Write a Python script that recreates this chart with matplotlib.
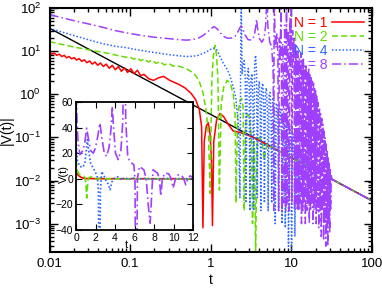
import matplotlib
matplotlib.use("Agg")
import matplotlib.pyplot as plt
import numpy as np
from matplotlib.ticker import LogLocator, NullFormatter, MultipleLocator

plt.rcParams['font.family'] = ['Liberation Sans', 'DejaVu Sans']

# ---------------- data: main panel |V(t)| ----------------
t_n1 = [0.0100, 0.0107, 0.0115, 0.0123, 0.0132, 0.0142, 0.0152, 0.0163, 0.0175, 0.0188,
        0.0202, 0.0217, 0.0233, 0.0251, 0.0270, 0.0291, 0.0314, 0.0339, 0.0366, 0.0396,
        0.0429, 0.0465, 0.0505, 0.0550, 0.0600, 0.0655, 0.0715, 0.0780, 0.0850, 0.0930,
        0.1020, 0.1120, 0.1230, 0.1350, 0.1480, 0.1700, 0.1950, 0.2250, 0.2600, 0.3100,
        0.4000, 0.4800, 0.5700, 0.6500, 0.7200, 0.7700, 0.8000, 0.8300, 0.8800, 0.9300,
        0.9800, 1.0200, 1.0500, 1.0900, 1.1800, 1.3000, 1.4500, 1.6500, 1.9000, 2.3000,
        3.0000, 4.0000, 5.3000, 8.0000, 12.000, 20.000, 40.000, 100.00]
v_n1 = [9.3, 8.5, 9.0, 8.0, 8.5, 7.5, 8.0, 7.0, 7.5, 6.6,
        7.1, 6.2, 6.7, 5.8, 6.3, 5.4, 5.9, 5.0, 5.6, 4.7,
        5.3, 4.4, 5.0, 4.0, 4.7, 3.7, 4.4, 3.4, 4.1, 3.2,
        3.9, 3.0, 3.6, 2.7, 2.9, 2.3, 2.1, 2.4, 2.6, 2.1,
        1.7, 1.4, 1.05, 0.75, 0.45, 0.18, 0.0008, 0.08, 0.18, 0.22,
        0.12, 0.03, 0.0009, 0.08, 0.25, 0.36, 0.3, 0.2, 0.14, 0.13,
        0.11, 0.085, 0.064, 0.042, 0.028, 0.017, 0.0085, 0.0034]

t_n2 = [0.010, 0.015, 0.020, 0.030, 0.040, 0.055, 0.070, 0.090, 0.100, 0.110,
        0.122, 0.135, 0.150, 0.168, 0.188, 0.210, 0.235, 0.265, 0.300, 0.340,
        0.380, 0.430, 0.500, 0.580, 0.640, 0.720, 0.800, 0.880, 0.940, 0.985,
        1.030, 1.080, 1.130, 1.180, 1.230, 1.280, 1.350, 1.450, 1.600, 1.750,
        1.900, 2.000, 2.060, 2.150, 2.300, 2.420, 2.520, 2.600, 2.700, 2.850,
        3.000, 3.200, 3.300, 3.400, 3.500, 3.600, 3.750, 4.000, 4.300, 4.600,
        5.000, 5.500, 8.000, 12.00, 20.00, 40.00, 100.0]
v_n2 = [16.5, 14.0, 12.5, 10.8, 9.8, 8.8, 7.9, 7.2, 7.3, 6.5,
        7.0, 6.0, 6.6, 5.6, 6.2, 5.2, 5.7, 4.8, 5.2, 4.5,
        4.6, 4.3, 3.9, 3.3, 2.8, 2.0, 1.1, 0.4, 0.1, 0.005,
        2.0, 8.0, 13.5, 8.0, 2.0, 0.006, 0.6, 1.5, 2.1, 1.8,
        1.0, 0.4, 0.003, 0.3, 0.7, 0.8, 0.5, 0.002, 0.2, 0.35,
        0.3, 0.1, 0.001, 0.08, 0.05, 0.0002, 0.07, 0.1, 0.085, 0.03,
        0.07, 0.062, 0.042, 0.028, 0.017, 0.0085, 0.0034]

t_n4 = [0.010, 0.015, 0.020, 0.030, 0.045, 0.065, 0.090, 0.130, 0.200, 0.300,
        0.400, 0.500, 0.600, 0.700, 0.800, 0.900, 1.000, 1.100, 1.200, 1.300,
        1.450, 1.600, 1.750, 1.900, 2.050, 2.200, 2.300, 2.360, 2.390, 2.420,
        2.45, 2.52, 2.60, 2.68, 2.74, 2.82, 2.92, 3.00, 3.06, 3.15,
        3.25, 3.33, 3.40, 3.50, 3.60, 3.70, 3.78, 3.88, 4.00, 4.10,
        4.18, 4.30, 4.42, 4.55, 4.63, 4.77, 4.90, 5.05, 5.15, 5.30,
        5.45, 5.60, 5.70, 5.88, 6.05, 6.20, 6.30, 6.50, 6.70, 6.85,
        6.95, 7.15, 7.35, 7.55, 7.65, 7.90, 8.10, 8.30, 8.40, 8.65,
        8.90, 9.10, 9.20, 9.50, 9.75, 9.95, 10.05, 10.40, 10.70, 10.95,
        11.05, 11.40, 11.80, 12.10, 12.25, 12.70, 13.20, 13.60, 13.80, 14.40,
        15.00, 20.00, 40.00, 100.0]
v_n4 = [34.0, 27.0, 23.0, 18.5, 15.0, 13.0, 12.0, 10.5, 9.3, 8.3,
        7.8, 7.5, 7.6, 8.0, 8.8, 9.8, 11.0, 11.8, 10.5, 7.5,
        5.0, 3.8, 2.5, 1.5, 0.8, 0.2, 0.004, 20.0, 150.0, 20.0,
        3.0, 5.0, 6.0, 2.5, 0.003, 2.0, 4.0, 1.5, 0.002, 2.2,
        3.0, 0.8, 0.002, 5.0, 8.0, 3.0, 0.004, 1.2, 2.0, 0.6,
        0.002, 1.5, 1.8, 0.5, 0.003, 1.2, 1.4, 0.4, 0.002, 1.0,
        1.1, 0.3, 0.003, 0.8, 0.8, 0.2, 0.001, 0.6, 0.6, 0.15,
        0.002, 0.45, 0.45, 0.1, 0.001, 0.35, 0.33, 0.08, 0.0008, 0.25,
        0.22, 0.05, 0.0003, 0.18, 0.15, 0.03, 0.00025, 0.12, 0.1, 0.02,
        0.0005, 0.07, 0.06, 0.015, 0.002, 0.045, 0.035, 0.01, 0.004, 0.026,
        0.022, 0.017, 0.0085, 0.0034]

t_n8 = [0.010, 0.015, 0.020, 0.030, 0.045, 0.065, 0.090, 0.130, 0.200, 0.300,
        0.400, 0.500, 0.600, 0.700, 0.800, 0.900, 1.000, 1.100, 1.200, 1.300,
        1.450, 1.600, 1.800, 2.000, 2.150, 2.300, 2.400, 2.500, 2.650, 2.900,
        3.200, 3.450, 3.600, 3.700, 3.800, 4.000, 4.300, 4.600, 4.800, 4.950,
        5.100, 5.400, 5.700,
        5.95, 6.05, 6.10, 6.15, 6.25, 6.40, 6.60, 6.80, 6.95, 7.10,
        7.25, 7.45, 7.65, 7.80, 7.95, 8.10, 8.25, 8.40, 8.55, 8.70,
        8.85, 9.00, 9.20, 9.40, 9.60, 9.78, 9.96, 10.15, 10.35, 10.55,
        10.75, 10.95, 11.10, 11.25, 11.45, 11.65, 11.85,
        12.10, 12.35, 12.60, 12.85, 13.10, 13.35, 13.60, 13.85, 14.10, 14.35,
        14.60, 14.90, 15.20, 15.50, 15.80, 16.10, 16.40, 16.70, 17.00, 17.30,
        17.60, 17.90, 18.20, 18.50, 18.80, 19.10, 19.40, 19.70, 20.00, 20.30,
        20.70, 21.10, 21.50, 21.90, 22.30, 22.70, 23.10, 23.50, 23.90, 24.30,
        24.70, 25.10, 25.50, 25.90, 26.30, 26.70, 27.10, 27.50, 27.90, 28.30,
        28.70, 29.10, 29.50, 29.90, 30.30, 30.70, 31.20, 32.00,
        40.00, 100.0]
v_n8 = [70.0, 58.0, 51.0, 43.0, 36.0, 30.0, 26.5, 23.5, 21.0, 19.5,
        18.5, 18.0, 18.5, 20.0, 23.0, 27.0, 33.0, 37.0, 33.0, 27.0,
        22.0, 20.0, 20.0, 22.0, 27.0, 35.0, 38.0, 33.0, 24.0, 18.5,
        18.0, 22.0, 35.0, 55.0, 35.0, 20.0, 16.0, 20.0, 40.0, 150.0,
        40.0, 16.0, 13.0,
        3.0, 0.002, 40.0, 150.0, 30.0, 12.0, 25.0, 9.0, 0.002, 20.0,
        6.0, 150.0, 0.002, 15.0, 5.0, 0.003, 40.0, 8.0, 0.002, 150.0,
        0.003, 12.0, 30.0, 0.002, 60.0, 4.0, 150.0, 0.003, 30.0, 6.0,
        20.0, 0.002, 12.0, 15.0, 0.003, 10.0, 0.002,
        10.0, 0.002, 7.0, 0.003, 9.0, 0.001, 6.0, 0.002, 6.5, 0.003,
        4.5, 0.001, 5.0, 0.002, 3.5, 0.003, 3.8, 0.001, 2.8, 0.002,
        2.5, 0.003, 2.0, 0.001, 1.8, 0.002, 1.4, 0.003, 1.2, 0.001,
        0.9, 0.002, 0.65, 0.0008, 0.5, 0.002, 0.35, 0.0005, 0.27, 0.002,
        0.2, 0.0004, 0.14, 0.001, 0.1, 0.0003, 0.07, 0.0008, 0.05, 0.0003,
        0.035, 0.001, 0.025, 0.0006, 0.018, 0.002, 0.013, 0.0106,
        0.0085, 0.0034]

# reference line
t_ref = [0.01, 100.0]
v_ref = [34.0, 0.0034]

# ---------------- data: inset V(t) ----------------
ti_n1 = [0.0, 0.1, 0.2, 0.35, 0.5, 0.7, 1.0, 1.5, 2.0, 12.0]
vi_n1 = [6.0, 4.0, 3.0, 2.0, 1.2, 0.6, 0.2, 0.2, 0.1, 0.0]

ti_n2 = [0.0, 0.1, 0.2, 0.4, 0.6, 0.8, 0.95, 1.05, 1.1, 1.15, 1.25, 1.4, 1.7, 2.1, 2.5, 3.0, 12.0]
vi_n2 = [15.0, 8.0, 5.0, 3.1, 2.5, 2.0, 0.5, -8.0, -15.0, -8.0, 0.0, 1.3, 1.5, -0.5, 0.7, 0.0, 0.0]

ti_n4 = [0.0, 0.05, 0.15, 0.4, 0.7, 0.9, 1.05, 1.16, 1.3, 1.5, 1.77, 2.0, 2.2, 2.3, 2.39, 2.5,
         2.63, 2.9, 3.1, 3.3, 3.5, 3.7, 4.0, 4.3, 4.7, 5.0, 5.4, 5.8, 6.2, 7.0, 8.0, 9.0, 10.0, 12.0]
vi_n4 = [30.0, 25.0, 14.0, 9.6, 9.0, 12.0, 22.0, 30.5, 22.0, 12.0, 8.3, 5.0, 1.0, -10.0, -150.0, -10.0,
         5.7, 1.8, -2.0, -4.0, -8.6, -2.0, 1.0, 1.5, -1.0, 1.0, -0.8, 0.8, -0.5, 0.4, -0.3, 0.2, 0.1, 0.0]

ti_n8 = [0.0, 0.1, 0.2, 0.4, 0.7, 0.9, 1.09, 1.3, 1.5, 1.77, 2.0, 2.25, 2.45, 2.65, 2.9, 3.14,
         3.4, 3.6, 3.72, 3.85, 4.05, 4.33, 4.6, 4.8, 4.95, 5.1, 5.3, 5.5, 5.93, 6.05, 6.15,
         6.3, 6.5, 6.96, 7.2, 7.4, 7.6, 7.9, 8.36, 8.55, 8.7, 8.85, 9.1, 9.5, 9.75, 9.96,
         10.2, 10.4, 10.8, 11.05, 11.25, 11.45, 11.7, 12.0]
vi_n8 = [80.0, 45.0, 30.0, 18.8, 22.0, 28.0, 39.6, 30.0, 22.0, 20.0, 24.0, 34.0, 43.6, 32.0, 20.0, 17.5,
         25.0, 40.0, 56.6, 40.0, 20.0, 15.0, 22.0, 45.0, 150.0, 45.0, 18.0, 13.5, 11.0, 0.0, -150.0,
         0.0, 9.6, 7.0, 0.0, -20.0, -34.7, 7.0, 4.4, 0.0, -13.5, 0.0, 4.4, 4.0, 0.0, -7.3,
         0.0, 3.0, 3.0, 0.0, -4.7, 0.0, 2.3, 1.0]

labels = ['N = 1', 'N = 2', 'N = 4', 'N = 8']
colors = ['#ff0000', '#66dd00', '#2a66ff', '#a040ff']
styles = ['-', (0, (4, 2)), (0, (1, 1.3)), (0, (6, 2, 1, 2))]

fig = plt.figure(figsize=(3.82, 2.92), dpi=100)
ax = fig.add_axes([0.1296, 0.1370, 0.8442, 0.8356])

main_t = [t_n1, t_n2, t_n4, t_n8]
main_v = [v_n1, v_n2, v_n4, v_n8]
ax.plot(t_ref, v_ref, color='black', lw=1.0, zorder=1)
for tt, vv, c, s, lab in zip(main_t, main_v, colors, styles, labels):
    ax.plot(tt, vv, color=c, ls=s, lw=1.1, label=lab, zorder=2)

ax.set_xscale('log')
ax.set_yscale('log')
ax.set_xlim(0.01, 100)
ax.set_ylim(2.2e-4, 100)
ax.set_xticks([0.01, 0.1, 1, 10, 100])
ax.set_xticklabels(['0.01', '0.1', '1', '10', '100'])
ax.set_yticks([1e-3, 1e-2, 1e-1, 1, 10, 100])
ax.set_yticklabels([r'$\mathdefault{10^{-3}}$', r'$\mathdefault{10^{-2}}$', r'$\mathdefault{10^{-1}}$',
                    r'$\mathdefault{10^{0}}$', r'$\mathdefault{10^{1}}$', r'$\mathdefault{10^{2}}$'])
ax.xaxis.set_minor_locator(LogLocator(base=10, subs=np.arange(2, 10)))
ax.yaxis.set_minor_locator(LogLocator(base=10, subs=np.arange(2, 10)))
ax.xaxis.set_minor_formatter(NullFormatter())
ax.yaxis.set_minor_formatter(NullFormatter())
ax.tick_params(which='both', direction='in', top=True, right=True, labelsize=9.5, width=1.0)
ax.tick_params(which='major', length=6)
ax.tick_params(axis='x', which='major', pad=4)
ax.tick_params(axis='y', which='major', pad=6)
ax.tick_params(which='minor', length=3)
for sp in ax.spines.values():
    sp.set_linewidth(1.5)
ax.set_xlabel('t', fontsize=10)
ax.set_ylabel('|V(t)|', fontsize=10)
ax.xaxis.set_label_coords(0.5, -0.085)
ax.yaxis.set_label_coords(-0.11, 0.5)

leg = ax.legend(loc='upper right', markerfirst=False, frameon=False, fontsize=10,
                handlelength=2.3, handletextpad=0.3, labelspacing=0.0,
                borderaxespad=0.2, labelcolor='linecolor')
leg.set_zorder(10)

# inset
axi = fig.add_axes([0.199, 0.2123, 0.3063, 0.4384])
ins_t = [ti_n1, ti_n2, ti_n4, ti_n8]
ins_v = [vi_n1, vi_n2, vi_n4, vi_n8]
for tt, vv, c, s in zip(ins_t, ins_v, colors, styles):
    axi.plot(tt, vv, color=c, ls=s, lw=1.2)
axi.set_xlim(0, 12)
axi.set_ylim(-40, 60)
axi.xaxis.set_major_locator(MultipleLocator(2))
axi.yaxis.set_major_locator(MultipleLocator(20))
axi.tick_params(direction='in', top=True, right=True, labelsize=7.5, length=4, pad=2)
for sp in axi.spines.values():
    sp.set_linewidth(1.3)
axi.set_xlabel('t', fontsize=8)
axi.set_ylabel('V(t)', fontsize=8)
axi.xaxis.set_label_coords(0.43, -0.08)
axi.yaxis.set_label_coords(-0.06, 0.44)

fig.savefig('out.png', dpi=100)
